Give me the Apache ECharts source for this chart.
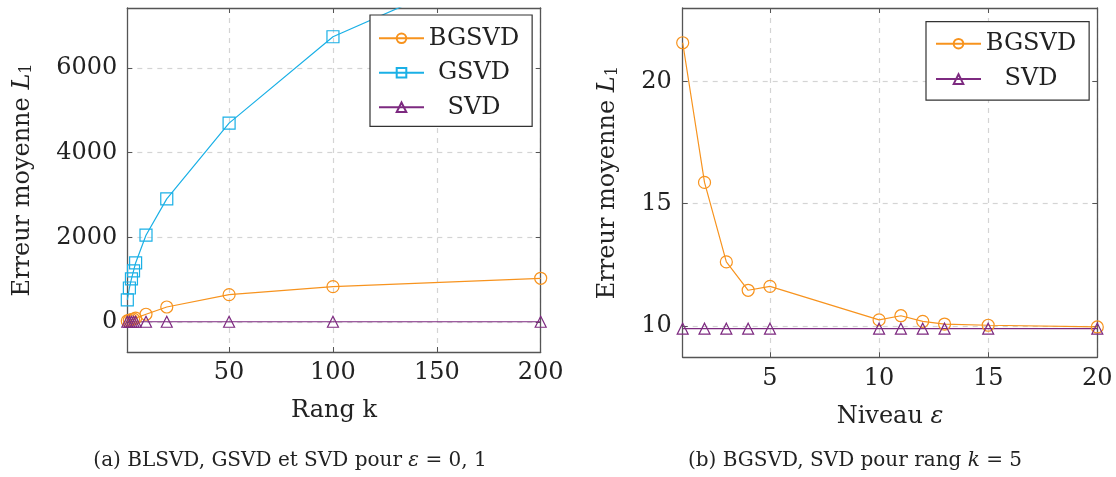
<!DOCTYPE html>
<html>
<head>
<meta charset="utf-8">
<script src="https://cdn.jsdelivr.net/npm/echarts@6/dist/echarts.min.js"></script>
<style>
html,body{margin:0;padding:0;background:#fff;}
#chart{width:1116px;height:477px;}
</style>
</head>
<body>
<div id="chart"></div>
<script>
// ---- data ----
const kRank = [1, 2, 3, 4, 5, 10, 20, 50, 100, 200];
const bgsvdRank = [25, 40, 55, 70, 90, 182, 354, 645, 834, 1032];
const gsvdRank = [520, 803, 1016, 1205, 1394, 2050, 2910, 4700, 6740, 8900];
const svdRank = [5, 5, 5, 5, 5, 5, 5, 5, 5, 5];

const epsLevels = [1, 2, 3, 4, 5, 10, 11, 12, 13, 15, 20];
const bgsvdEps = [21.58, 15.87, 12.62, 11.46, 11.62, 10.25, 10.42, 10.19, 10.08, 10.03, 9.96];
const svdEps = [9.89, 9.89, 9.89, 9.89, 9.89, 9.89, 9.89, 9.89, 9.89, 9.89, 9.89];

const rankTicks = [50, 100, 150, 200];
const rankErrTicks = [0, 2000, 4000, 6000];
const epsTicks = [5, 10, 15, 20];
const epsErrTicks = [10, 15, 20];

// ---- style ----
const FONT = 'DejaVu Serif';
const TXT = '#222';
const AXC = '#555';
const ORANGE = '#f7931e';
const CYAN = '#1ab0e6';
const PURPLE = '#7d2a80';
const GRIDC = '#d4d4d4';

function axis(opts) {
  const ticks = opts.ticks;
  return Object.assign({
    type: 'value',
    axisLine: { show: true, onZero: false, lineStyle: { color: AXC, width: 1.3 } },
    axisTick: { show: true, inside: true, length: 5, customValues: ticks, lineStyle: { color: AXC, width: 1 } },
    axisLabel: opts.labels ? { show: true, customValues: ticks, formatter: v => String(v), fontFamily: FONT, fontSize: 24, color: TXT, margin: opts.margin } : { show: false },
    splitLine: opts.split ? { show: true, lineStyle: { color: GRIDC, type: [5, 5], width: 1.2 } } : { show: false }
  }, opts.extra);
}

const rich = {
  i: { fontFamily: FONT, fontStyle: 'italic', fontSize: 24, color: TXT },
  s: { fontFamily: FONT, fontSize: 16, color: TXT, padding: [10, 0, 0, 0] },
  n: { fontFamily: FONT, fontSize: 24, color: TXT }
};

function pts(xs, ys) { return xs.map((x, i) => [x, ys[i]]); }

function lineSeries(name, color, symbol, size, xi, yi, data) {
  return {
    name: name, type: 'line', xAxisIndex: xi, yAxisIndex: yi, data: data,
    symbol: symbol, symbolSize: size, showAllSymbol: true, clip: true,
    color: color,
    lineStyle: { color: color, width: 1.2 },
    itemStyle: { color: 'rgba(255,255,255,0)', borderColor: color, borderWidth: 1.2 },
    animation: false, emphasis: { disabled: true }
  };
}

const legendBase = {
  orient: 'vertical', itemWidth: 45, itemHeight: 12,
  backgroundColor: '#fff', borderColor: '#333', borderWidth: 1.2, borderRadius: 0,
  selectedMode: false,
  formatter: n => '{c|' + n + '}',
  textStyle: { fontFamily: FONT, fontSize: 24, color: TXT,
    rich: { c: { fontFamily: FONT, fontSize: 24, color: TXT, width: 90, align: 'center', lineHeight: 28 } } }
};

const option = {
  animation: false,
  backgroundColor: '#fff',
  grid: [
    { left: 127.3, top: 8, width: 413.4, height: 344, containLabel: false },
    { left: 682.7, top: 8, width: 414.6, height: 349.3, containLabel: false }
  ],
  xAxis: [
    axis({ ticks: rankTicks, labels: true, split: true, margin: 9, extra: { gridIndex: 0, position: 'bottom', min: 1, max: 200,
      name: 'Rang k', nameLocation: 'middle', nameGap: 47, nameTextStyle: { fontFamily: FONT, fontSize: 24, color: TXT, rich: rich } } }),
    axis({ ticks: epsTicks, labels: true, split: true, margin: 9, extra: { gridIndex: 1, position: 'bottom', min: 1, max: 20,
      name: 'Niveau {i|ε}', nameLocation: 'middle', nameGap: 47, nameTextStyle: { fontFamily: FONT, fontSize: 24, color: TXT, rich: rich } } }),
    axis({ ticks: rankTicks, labels: false, split: false, extra: { gridIndex: 0, position: 'top', min: 1, max: 200 } }),
    axis({ ticks: epsTicks, labels: false, split: false, extra: { gridIndex: 1, position: 'top', min: 1, max: 20 } })
  ],
  yAxis: [
    axis({ ticks: rankErrTicks, labels: true, split: true, margin: 10, extra: { gridIndex: 0, position: 'left', min: -710, max: 7420,
      name: 'Erreur moyenne {i|L}{s|1}', nameLocation: 'middle', nameRotate: 90, nameGap: 92, nameTextStyle: { fontFamily: FONT, fontSize: 24, color: TXT, rich: rich } } }),
    axis({ ticks: epsErrTicks, labels: true, split: true, margin: 11, extra: { gridIndex: 1, position: 'left', min: 8.72, max: 23,
      name: 'Erreur moyenne {i|L}{s|1}', nameLocation: 'middle', nameRotate: 90, nameGap: 62, nameTextStyle: { fontFamily: FONT, fontSize: 24, color: TXT, rich: rich } } }),
    axis({ ticks: rankErrTicks, labels: false, split: false, extra: { gridIndex: 0, position: 'right', min: -710, max: 7420 } }),
    axis({ ticks: epsErrTicks, labels: false, split: false, extra: { gridIndex: 1, position: 'right', min: 8.72, max: 23 } })
  ],
  legend: [
    Object.assign({}, legendBase, { left: 370, top: 15, itemGap: 10.5, padding: [11.3, 13, 7, 8], data: ['BGSVD', 'GSVD', 'SVD'] }),
    Object.assign({}, legendBase, { left: 926, top: 21.7, itemGap: 11.4, padding: [10, 13, 9, 9], data: ['BGSVD', 'SVD'] })
  ],
  series: [
    lineSeries('BGSVD', ORANGE, 'circle', 12, 0, 0, pts(kRank, bgsvdRank)),
    lineSeries('GSVD', CYAN, 'rect', 12, 0, 0, pts(kRank, gsvdRank)),
    lineSeries('SVD', PURPLE, 'triangle', 11, 0, 0, pts(kRank, svdRank)),
    lineSeries('BGSVD', ORANGE, 'circle', 12, 1, 1, pts(epsLevels, bgsvdEps)),
    lineSeries('SVD', PURPLE, 'triangle', 11, 1, 1, pts(epsLevels, svdEps))
  ],
  graphic: [
    { type: 'text', x: 290, y: 461, style: { text: '(a) BLSVD, GSVD et SVD pour {i|ε} = 0, 1', textAlign: 'center', textVerticalAlign: 'middle',
      fontFamily: FONT, fontSize: 20, fill: TXT, rich: { i: { fontFamily: FONT, fontStyle: 'italic', fontSize: 20, fill: TXT } } } },
    { type: 'text', x: 855, y: 461, style: { text: '(b) BGSVD, SVD pour rang {i|k} = 5', textAlign: 'center', textVerticalAlign: 'middle',
      fontFamily: FONT, fontSize: 20, fill: TXT, rich: { i: { fontFamily: FONT, fontStyle: 'italic', fontSize: 20, fill: TXT } } } }
  ]
};

const chart = echarts.init(document.getElementById('chart'), null, { renderer: 'canvas' });
chart.setOption(option);
</script>
</body>
</html>
